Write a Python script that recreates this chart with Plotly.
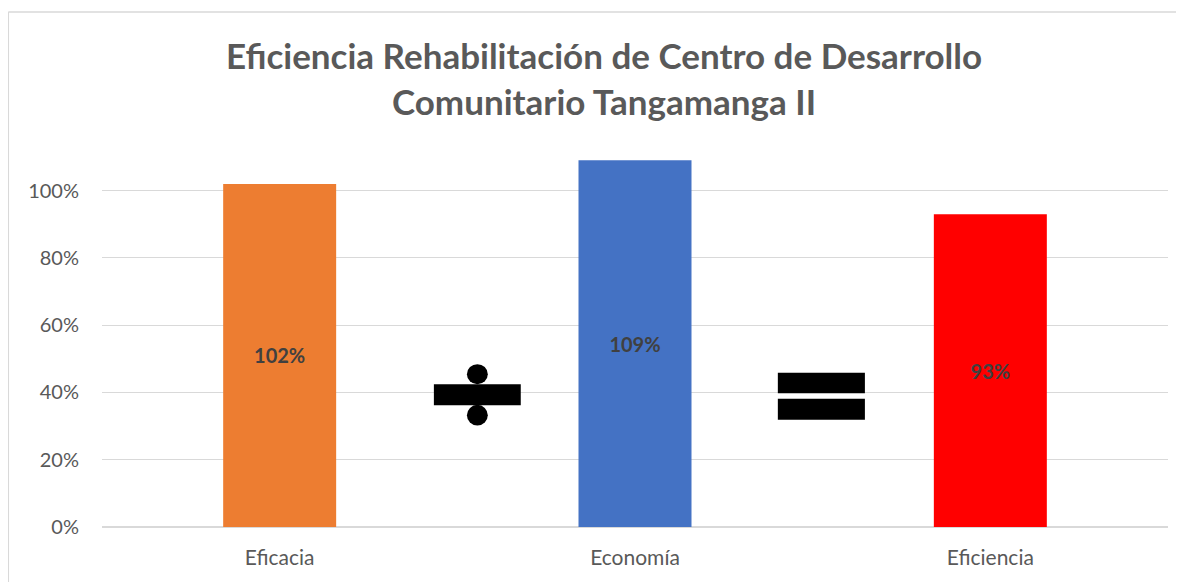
import plotly.graph_objects as go

categories = ["Eficacia", "Economía", "Eficiencia"]
values = [1.02, 1.09, 0.93]
labels = ["102%", "109%", "93%"]
colors = ["#ED7D31", "#4472C4", "#FF0000"]
y_ticks = [0, 0.2, 0.4, 0.6, 0.8, 1.0]
y_tick_text = ["0%", "20%", "40%", "60%", "80%", "100%"]

fig = go.Figure()

fig.add_trace(go.Bar(
    x=categories,
    y=values,
    text=labels,
    textposition="inside",
    insidetextanchor="middle",
    textangle=0,
    textfont=dict(family="Lato", size=20, color="#404040", weight="bold"),
    marker=dict(color=colors, line=dict(width=0)),
    showlegend=False,
))

# the "÷" and "=" symbols drawn between the bars
black = dict(type="rect", xref="x", yref="y", fillcolor="black", line=dict(width=0))
fig.add_shape(**black, x0=0.434, x1=0.6785, y0=0.3622, y1=0.4247)
fig.add_shape(type="circle", xref="x", yref="y", fillcolor="black", line=dict(width=0),
              x0=0.527, x1=0.5857, y0=0.4247, y1=0.4842)
fig.add_shape(type="circle", xref="x", yref="y", fillcolor="black", line=dict(width=0),
              x0=0.527, x1=0.5857, y0=0.3015, y1=0.3631)
fig.add_shape(**black, x0=1.402, x1=1.647, y0=0.3979, y1=0.4583)
fig.add_shape(**black, x0=1.402, x1=1.647, y0=0.3185, y1=0.381)

# chart frame (left and top edges visible)
fig.add_shape(type="line", xref="paper", yref="paper", x0=-0.0879, x1=-0.0879, y0=-0.2, y1=1.392,
              line=dict(color="#d9d9d9", width=1.5))
fig.add_shape(type="line", xref="paper", yref="paper", x0=-0.0879, x1=1.1, y0=1.392, y1=1.392,
              line=dict(color="#d9d9d9", width=1.5))

fig.update_layout(
    width=1176,
    height=574,
    margin=dict(l=94, r=16, t=149, b=55),
    paper_bgcolor="white",
    plot_bgcolor="white",
    bargap=0.682,
    title=dict(
        text="Eficiencia Rehabilitación de Centro de Desarrollo<br>Comunitario Tangamanga II",
        x=596 / 1176,
        xanchor="center",
        xref="container",
        y=1 - 61 / 574,
        yanchor="middle",
        yref="container",
        font=dict(family="Lato", size=35, color="#595959", weight="bold"),
    ),
    font=dict(family="Lato", color="#595959"),
)

fig.update_xaxes(
    showgrid=False,
    showline=False,
    ticks="",
    ticklabelstandoff=16,
    tickfont=dict(size=21, color="#595959"),
)
fig.update_yaxes(
    range=[0, 1.1],
    tickvals=y_ticks,
    ticktext=y_tick_text,
    showgrid=True,
    gridcolor="#d9d9d9",
    gridwidth=1,
    zeroline=True,
    zerolinecolor="#d9d9d9",
    zerolinewidth=1.5,
    showline=False,
    ticks="",
    ticklabelstandoff=22,
    tickfont=dict(size=20, color="#595959"),
)

fig.write_html("out.html")
